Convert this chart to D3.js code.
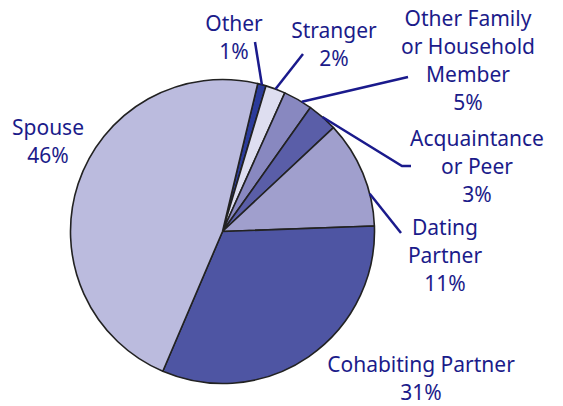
<!DOCTYPE html>
<html>
<head>
<meta charset="utf-8">
<script src="https://cdn.jsdelivr.net/npm/d3@7"></script>
<style>
    body { margin: 0; background: #fff; }
    svg text { font-family: "Noto Sans", sans-serif; font-size: 21px; fill: #1b1b8a; }
</style>
</head>
<body>
<div id="chart"></div>
<script>
// Relationship categories, clockwise from the top
const categories = ['Other', 'Stranger', 'Other Family or Household Member', 'Acquaintance or Peer', 'Dating Partner', 'Cohabiting Partner', 'Spouse'];
// Slice shares as drawn (percent)
const shares = [0.9, 2.1, 3.1, 3.2, 11.4, 32.0, 47.3];
// Printed labels
const labelLines = [
    ['Other', '1%'],
    ['Stranger', '2%'],
    ['Other Family', 'or Household', 'Member', '5%'],
    ['Acquaintance', 'or Peer', '3%'],
    ['Dating', 'Partner', '11%'],
    ['Cohabiting Partner', '31%'],
    ['Spouse', '46%']
];
const colors = ['#2b3b9b', '#dedef0', '#8888c0', '#5a5ea8', '#a09fcd', '#4e55a3', '#bbbbde'];

const width = 563, height = 406;
const cx = 222.5, cy = 231.5, radius = 152;
const startDeg = 13.4;

// label layout: block center x, first baseline y, leader end point, where the leader touches the slice (0..1)
const labelLayout = [
    { x: 234, y: 31, leader: [[255, 42]], t: 0.5 },
    { x: 334, y: 38, leader: [[303, 54]], t: 0.5 },
    { x: 468, y: 26, leader: [[408, 77]], t: 0.65 },
    { x: 477, y: 146, leader: [[402, 166], [411, 166]], t: 0.5 },
    { x: 445, y: 235, leader: [[401, 233]], t: 0.7 },
    { x: 421, y: 372, leader: null },
    { x: 48, y: 135, leader: null }
];
const lineGap = 28;

const svg = d3.select('#chart').append('svg')
    .attr('width', width)
    .attr('height', height);

const g = svg.append('g').attr('transform', `translate(${cx},${cy})`);

const pie = d3.pie().sort(null).value(d => d)
    .startAngle(startDeg * Math.PI / 180)
    .endAngle(startDeg * Math.PI / 180 + 2 * Math.PI);
const arcs = pie(shares);
const arc = d3.arc().innerRadius(0).outerRadius(radius);

g.selectAll('path.slice').data(arcs).enter().append('path')
    .attr('class', 'slice')
    .attr('d', arc)
    .attr('fill', (d, i) => colors[i])
    .attr('stroke', '#222')
    .attr('stroke-width', 1.6)
    .attr('stroke-linejoin', 'round');

// leader lines
arcs.forEach((a, i) => {
    const lay = labelLayout[i];
    if (!lay.leader) return;
    const ang = a.startAngle + (a.endAngle - a.startAngle) * lay.t;
    const start = [cx + radius * Math.sin(ang), cy - radius * Math.cos(ang)];
    svg.append('path')
        .attr('d', d3.line()([start].concat(lay.leader)))
        .attr('fill', 'none')
        .attr('stroke', '#1a1a8c')
        .attr('stroke-width', 2.5);
});

// labels
labelLines.forEach((lines, i) => {
    const lay = labelLayout[i];
    const t = svg.append('text').attr('text-anchor', 'middle');
    lines.forEach((s, j) => {
        t.append('tspan').attr('x', lay.x).attr('y', lay.y + j * lineGap).text(s);
    });
});
</script>
</body>
</html>
